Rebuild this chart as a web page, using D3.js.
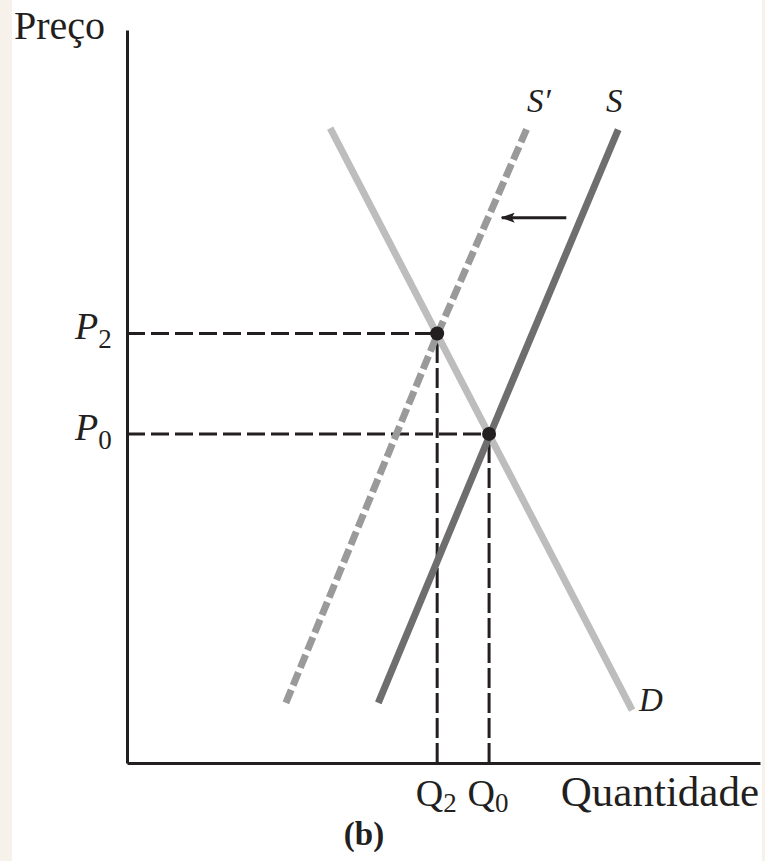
<!DOCTYPE html>
<meta charset="utf-8">
<script src="https://d3js.org/d3.v7.min.js"></script>
<style>
  body { margin: 0; background: #fff; }
  text { font-family: "Liberation Serif", "DejaVu Serif", serif; fill: #231f20; }
</style>
<div class="canvas"></div>
<script>
    const width = 765
    const height = 861
    const margin = {"top": 30, "right": 5, "bottom": 98, "left": 127}
    const graphWidth = width - margin.left - margin.right
    const graphHeight = height - margin.top - margin.bottom

    // curves: [quantity, price] in 0..100 units
    const demand = [[32.1, 86.6], [79.8, 7.2]]
    const supply = [[39.7, 8.2], [57.2, 44.6], [77.6, 86.4]]
    const supplyNew = [[25.1, 8.2], [49.0, 58.4], [63.2, 86.6]]
    // equilibria
    const eqNames = ["2", "0"]
    const eqQ = [49.0, 57.2]
    const eqP = [58.6, 44.9]
    // shift arrow
    const arrowFrom = [69.4, 74.4]
    const arrowTo = [59.2, 74.4]

    const svg = d3.select(".canvas")
                .append("svg")
                .attr("width", width)
                .attr("height", height)

    svg.append("rect").attr("width", 12).attr("height", height).attr("fill", "#f6f1ea")
    svg.append("rect").attr("x", 762).attr("width", 3).attr("height", height).attr("fill", "#f6f1ea")

    const graph = svg.append("g")
                    .attr("transform", `translate(${margin.left},${margin.top})`)

    const x = d3.scaleLinear().domain([0, 100]).range([0, graphWidth])
    const y = d3.scaleLinear().domain([0, 100]).range([graphHeight, 0])

    const line = d3.line().x(d => x(d[0])).y(d => y(d[1]))

    // dashed guide lines
    eqQ.forEach((q, i) => {
        graph.append("path")
            .attr("d", line([[0, eqP[i]], [q, eqP[i]]]))
            .attr("stroke", "#231f20").attr("stroke-width", 3)
            .attr("stroke-dasharray", "18,6").attr("fill", "none")
        graph.append("path")
            .attr("d", line([[q, 0], [q, eqP[i]]]))
            .attr("stroke", "#231f20").attr("stroke-width", 3)
            .attr("stroke-dasharray", "20,5").attr("fill", "none")
    })

    graph.append("path").attr("d", line(demand))
        .attr("stroke", "#bdbdbd").attr("stroke-width", 7).attr("fill", "none")
    graph.append("path").attr("d", d3.line().x(d => x(d[0])).y(d => y(d[1])).curve(d3.curveBasis)(supply))
        .attr("stroke", "#6e6e6e").attr("stroke-width", 7).attr("fill", "none")
    graph.append("path").attr("d", line(supplyNew))
        .attr("stroke", "#9a9a9a").attr("stroke-width", 7).attr("fill", "none")
        .attr("stroke-dasharray", "14,5")

    // axes
    const gXAxis = graph.append("g").attr("transform", `translate(0,${graphHeight})`)
    const gYAxis = graph.append("g")
    gXAxis.call(d3.axisBottom(x).tickValues([]).tickSizeOuter(0))
    gYAxis.call(d3.axisLeft(y).tickValues([]).tickSizeOuter(0))
    graph.selectAll(".domain").attr("stroke", "#231f20").attr("stroke-width", 3)

    // equilibrium dots
    graph.selectAll("circle").data(eqQ).enter()
        .append("circle")
        .attr("cx", d => x(d))
        .attr("cy", (d, i) => y(eqP[i]))
        .attr("r", 7)
        .attr("fill", "#231f20")

    // arrow
    svg.append("defs").append("marker")
        .attr("id", "arr").attr("viewBox", "0 0 14 10")
        .attr("refX", 13).attr("refY", 5)
        .attr("markerUnits", "userSpaceOnUse")
        .attr("markerWidth", 14).attr("markerHeight", 10)
        .attr("orient", "auto")
        .append("path").attr("d", "M0,0 L14,5 L0,10 L3,5 Z").attr("fill", "#231f20")
    graph.append("path")
        .attr("d", line([arrowFrom, arrowTo]))
        .attr("stroke", "#231f20").attr("stroke-width", 3)
        .attr("marker-end", "url(#arr)")

    // labels
    svg.append("text").attr("x", 14).attr("y", 39).style("font-size", "40px").text("Preço")
    svg.append("text").attr("x", 759).attr("y", 806).attr("text-anchor", "end")
        .style("font-size", "43px").text("Quantidade")

    eqNames.forEach((n, i) => {
        const p = svg.append("text").attr("x", 75).attr("y", margin.top + y(eqP[i]) + 6)
            .style("font-size", "38px")
        p.append("tspan").style("font-style", "italic").text("P")
        p.append("tspan").attr("dy", 9).style("font-size", "27px").text(n)

        const q = svg.append("text").attr("x", margin.left + x(eqQ[i]) - 1).attr("y", 806)
            .attr("text-anchor", "middle").style("font-size", "38px")
        q.append("tspan").text("Q")
        q.append("tspan").attr("dy", 6).style("font-size", "27px").text(n)
    })

    svg.append("text").attr("x", 527).attr("y", 112).style("font-size", "33px")
        .style("font-style", "italic").text("S′")
    svg.append("text").attr("x", 606).attr("y", 112).style("font-size", "33px")
        .style("font-style", "italic").text("S")
    svg.append("text").attr("x", 639).attr("y", 711).style("font-size", "33px")
        .style("font-style", "italic").text("D")
    svg.append("text").attr("x", 364).attr("y", 845).attr("text-anchor", "middle")
        .style("font-size", "33px").style("font-weight", "bold").text("(b)")
</script>
